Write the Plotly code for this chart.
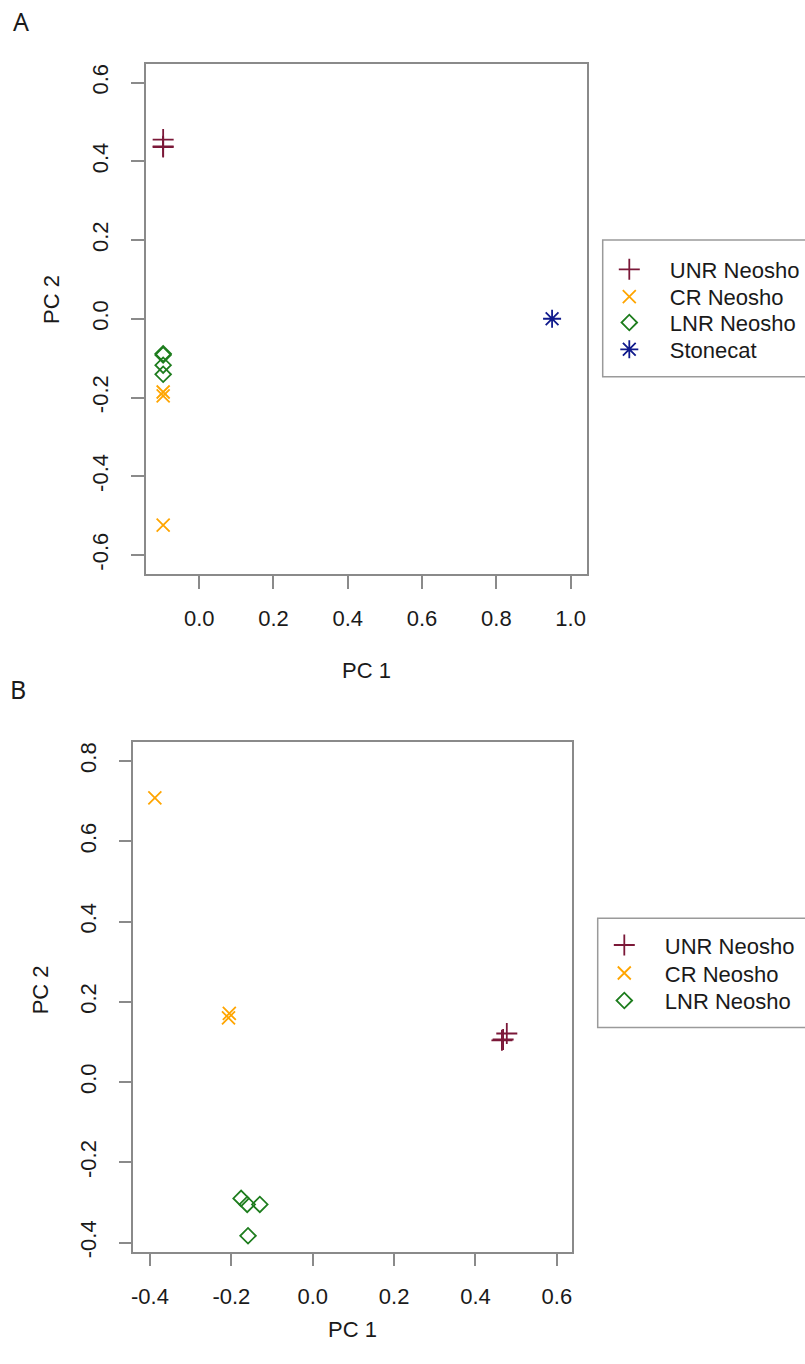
import plotly.graph_objects as go

# ---------------- data ----------------
groups = ["UNR Neosho", "CR Neosho", "LNR Neosho", "Stonecat"]

# Panel A (with Stonecat)
a_unr_x = [-0.097, -0.097, -0.097]
a_unr_y = [0.455, 0.436, 0.438]
a_cr_x = [-0.097, -0.097, -0.097]
a_cr_y = [-0.186, -0.196, -0.524]
a_lnr_x = [-0.097, -0.097, -0.097, -0.097]
a_lnr_y = [-0.089, -0.092, -0.118, -0.141]
a_sc_x = [0.950]
a_sc_y = [0.0]

# Panel B (Neosho only)
b_unr_x = [0.465, 0.477, 0.468]
b_unr_y = [0.104, 0.121, 0.106]
b_cr_x = [-0.388, -0.205, -0.207]
b_cr_y = [0.708, 0.171, 0.160]
b_lnr_x = [-0.176, -0.161, -0.130, -0.159]
b_lnr_y = [-0.290, -0.305, -0.305, -0.383]

a_xticks = [0.0, 0.2, 0.4, 0.6, 0.8, 1.0]
a_xlabels = ["0.0", "0.2", "0.4", "0.6", "0.8", "1.0"]
a_yticks = [-0.6, -0.4, -0.2, 0.0, 0.2, 0.4, 0.6]
a_ylabels = ["-0.6", "-0.4", "-0.2", "0.0", "0.2", "0.4", "0.6"]
b_xticks = [-0.4, -0.2, 0.0, 0.2, 0.4, 0.6]
b_xlabels = ["-0.4", "-0.2", "0.0", "0.2", "0.4", "0.6"]
b_yticks = [-0.4, -0.2, 0.0, 0.2, 0.4, 0.6, 0.8]
b_ylabels = ["-0.4", "-0.2", "0.0", "0.2", "0.4", "0.6", "0.8"]

# ---------------- styles ----------------
W, H = 805, 1364
FONT = "Liberation Sans, Arial, Helvetica, sans-serif"
TXT = "#1a1a1a"
AX = "#8a8a8a"
TICK_FS = 22
LEG_FS = 22
colors = {"UNR Neosho": "#7b1838", "CR Neosho": "#ffa500",
          "LNR Neosho": "#1e7d1e", "Stonecat": "#101a8c"}
symbols = {"UNR Neosho": "cross-thin-open", "CR Neosho": "x-thin-open",
           "LNR Neosho": "diamond-open", "Stonecat": "asterisk-open"}
sizes = {"UNR Neosho": 15, "CR Neosho": 13, "LNR Neosho": 12, "Stonecat": 15}


def px_x(p):
    return p / W


def px_y(p):
    return 1 - p / H


fig = go.Figure()

panelA = [("UNR Neosho", a_unr_x, a_unr_y), ("CR Neosho", a_cr_x, a_cr_y),
          ("LNR Neosho", a_lnr_x, a_lnr_y), ("Stonecat", a_sc_x, a_sc_y)]
panelB = [("UNR Neosho", b_unr_x, b_unr_y), ("CR Neosho", b_cr_x, b_cr_y),
          ("LNR Neosho", b_lnr_x, b_lnr_y)]

# legend rows (pixel centres) for each panel
rowsA = [269.3, 296.7, 322.5, 349.3]
rowsB = [945.0, 973.0, 1000.5]
ITEMW = 71
SYM_OFF = (ITEMW + 10) / 2.0
legends = {}
k = 0
for i, (name, xs, ys) in enumerate(panelA):
    k += 1
    lname = "legend" if k == 1 else "legend%d" % k
    fig.add_trace(go.Scatter(
        x=xs, y=ys, mode="markers", name=name, xaxis="x", yaxis="y",
        legend=lname, showlegend=True,
        marker=dict(symbol=symbols[name], size=sizes[name], color=colors[name],
                    line=dict(color=colors[name], width=1.8))))
    legends[lname] = dict(x=px_x(629.3 - SYM_OFF), y=px_y(rowsA[i] - 20.8))

for i, (name, xs, ys) in enumerate(panelB):
    k += 1
    lname = "legend%d" % k
    fig.add_trace(go.Scatter(
        x=xs, y=ys, mode="markers", name=name, xaxis="x2", yaxis="y2",
        legend=lname, showlegend=True,
        marker=dict(symbol=symbols[name], size=sizes[name], color=colors[name],
                    line=dict(color=colors[name], width=1.8))))
    legends[lname] = dict(x=px_x(624.3 - SYM_OFF), y=px_y(rowsB[i] - 20.8))

for lname, pos in legends.items():
    fig.update_layout({lname: dict(
        x=pos["x"], xanchor="left", y=pos["y"], yanchor="top",
        bgcolor="rgba(0,0,0,0)", borderwidth=0, itemwidth=ITEMW,
        font=dict(family=FONT, size=LEG_FS, color=TXT))})

common = dict(showgrid=False, zeroline=False, showline=True, mirror=True,
              linecolor=AX, linewidth=1.5, ticks="outside", ticklen=13,
              tickwidth=1.5, tickcolor=AX, automargin=False,
              tickfont=dict(family=FONT, size=TICK_FS, color=TXT))

fig.update_layout(
    width=W, height=H,
    showlegend=True,
    margin=dict(l=0, r=0, t=0, b=0),
    paper_bgcolor="white", plot_bgcolor="white",
    font=dict(family=FONT, size=22, color=TXT),
    xaxis=dict(domain=[px_x(145.7), px_x(587)], range=[-0.144, 1.044],
               tickvals=a_xticks, ticktext=a_xlabels, anchor="y",
               ticklabelstandoff=11, **common),
    yaxis=dict(domain=[px_y(573.9), px_y(63.6)], range=[-0.648, 0.648],
               tickvals=a_yticks, ticktext=a_ylabels, anchor="x",
               tickangle=-90, ticklabelstandoff=14, **common),
    xaxis2=dict(domain=[px_x(133.3), px_x(572.3)], range=[-0.441, 0.638],
                tickvals=b_xticks, ticktext=b_xlabels, anchor="y2",
                ticklabelstandoff=11, **common),
    yaxis2=dict(domain=[px_y(1251.7), px_y(741.7)], range=[-0.4227, 0.848],
                tickvals=b_yticks, ticktext=b_ylabels, anchor="x2",
                tickangle=-90, ticklabelstandoff=14, **common),
    shapes=[
        dict(type="rect", xref="paper", yref="paper",
             x0=px_x(602.7), x1=1.02, y0=px_y(376.7), y1=px_y(240),
             line=dict(color="#9a9a9a", width=1.5)),
        dict(type="rect", xref="paper", yref="paper",
             x0=px_x(597.7), x1=1.02, y0=px_y(1027.5), y1=px_y(918.3),
             line=dict(color="#9a9a9a", width=1.5)),
    ],
    annotations=[
        dict(text="PC 1", x=px_x(366.4), y=px_y(670), xref="paper", yref="paper",
             showarrow=False, xanchor="center", yanchor="middle",
             font=dict(family=FONT, size=22, color=TXT)),
        dict(text="PC 2", x=px_x(51), y=px_y(300), xref="paper", yref="paper",
             showarrow=False, xanchor="center", yanchor="middle", textangle=-90,
             font=dict(family=FONT, size=22, color=TXT)),
        dict(text="PC 1", x=px_x(352.8), y=px_y(1329.5), xref="paper", yref="paper",
             showarrow=False, xanchor="center", yanchor="middle",
             font=dict(family=FONT, size=22, color=TXT)),
        dict(text="PC 2", x=px_x(40.3), y=px_y(990), xref="paper", yref="paper",
             showarrow=False, xanchor="center", yanchor="middle", textangle=-90,
             font=dict(family=FONT, size=22, color=TXT)),
        dict(text="A", x=px_x(20.5), y=px_y(21), xref="paper", yref="paper",
             showarrow=False, xanchor="center", yanchor="middle",
             font=dict(family="Noto Sans, sans-serif", size=25, color=TXT)),
        dict(text="B", x=px_x(18), y=px_y(689), xref="paper", yref="paper",
             showarrow=False, xanchor="center", yanchor="middle",
             font=dict(family="Noto Sans, sans-serif", size=25, color=TXT)),
    ],
)

fig.write_html("out.html")
